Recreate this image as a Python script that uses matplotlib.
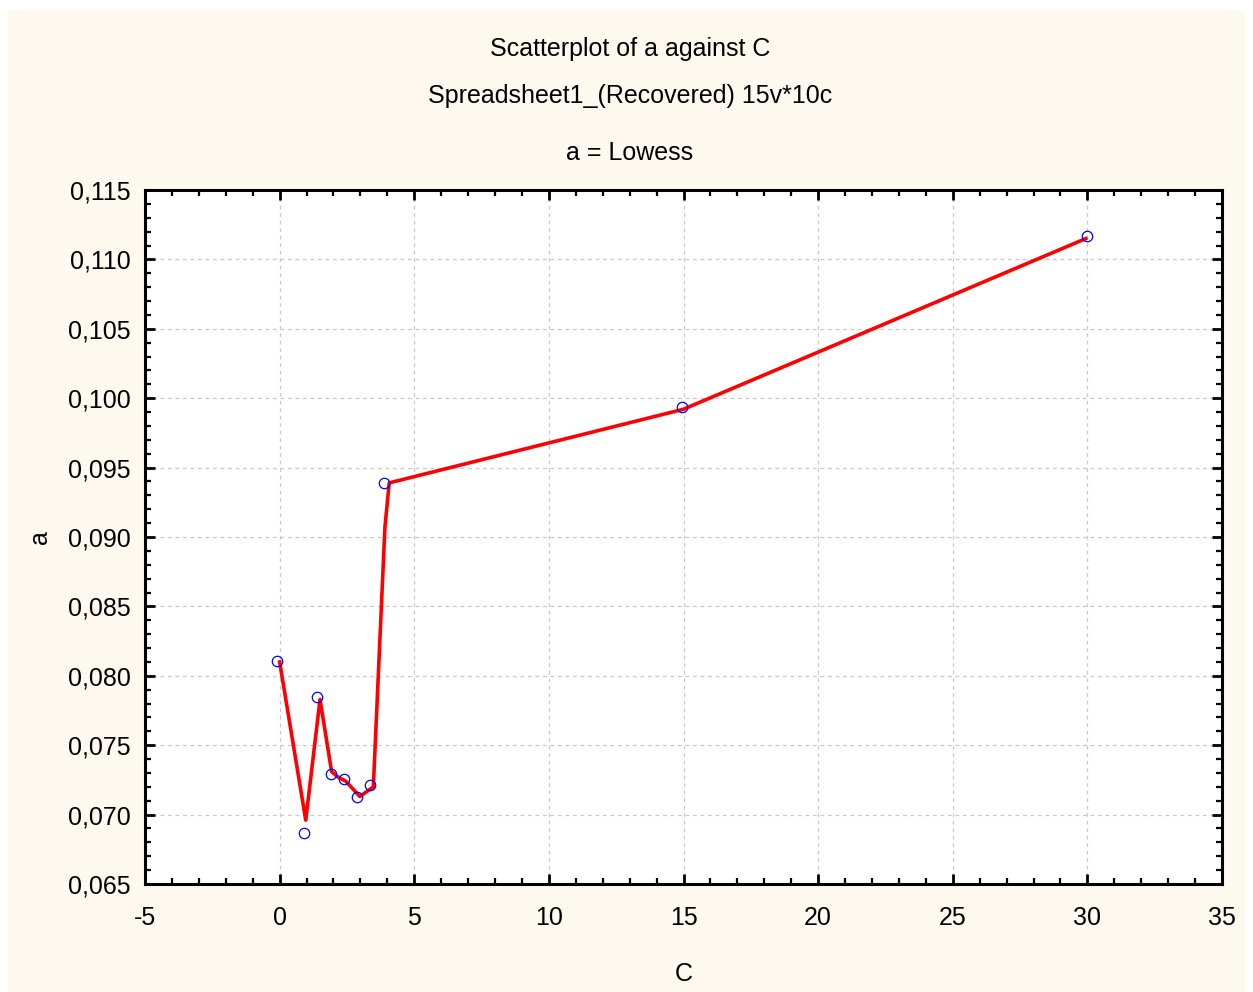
import matplotlib
matplotlib.use("Agg")
import matplotlib.pyplot as plt
from matplotlib.patches import Rectangle
from matplotlib.ticker import FuncFormatter, MultipleLocator

plt.rcParams["font.family"] = ["Liberation Sans", "DejaVu Sans"]

# observed points (a against C)
c_obs = [-0.1, 0.9, 1.39, 1.9, 2.39, 2.87, 3.36, 3.88, 14.95, 30.0]
a_obs = [0.0811, 0.0687, 0.0785, 0.0729, 0.0726, 0.0713, 0.0721, 0.0939, 0.0994, 0.1117]

# lowess fit as drawn
c_fit = [0.0, 0.97, 1.5, 1.93, 2.17, 2.46, 2.98, 3.48, 3.91, 4.07, 14.99, 29.94]
a_fit = [0.0810, 0.0696, 0.0783, 0.0731, 0.0727, 0.0724, 0.0713, 0.0720, 0.0907, 0.0939, 0.0992, 0.1115]

x_ticks = [-5, 0, 5, 10, 15, 20, 25, 30, 35]
y_ticks = [0.065, 0.070, 0.075, 0.080, 0.085, 0.090, 0.095, 0.100, 0.105, 0.110, 0.115]

title_lines = ["Scatterplot of a against C", "Spreadsheet1_(Recovered) 15v*10c", "a = Lowess"]

W, H = 1253, 992
fig = plt.figure(figsize=(W / 100, H / 100), dpi=100, facecolor="white")
fig.patches.append(Rectangle((8 / W, 0), 1237 / W, 982 / H, transform=fig.transFigure,
                             facecolor="#FEF9EE", edgecolor="none", zorder=-10))

ax = fig.add_axes([145 / W, 1 - 884 / H, 1077 / W, 694 / H])
ax.set_facecolor("white")

ax.plot(c_fit, a_fit, color="#FF0000", lw=2.6, zorder=3)
ax.plot(c_obs, a_obs, ls="none", marker="o", ms=7.5, mfc="none", mec="#0000FF", mew=0.9, zorder=4)

ax.set_xlim(-5, 35)
ax.set_ylim(0.065, 0.115)
ax.set_xticks(x_ticks)
ax.set_yticks(y_ticks)
ax.xaxis.set_minor_locator(MultipleLocator(1))
ax.yaxis.set_minor_locator(MultipleLocator(0.001))
ax.xaxis.set_major_formatter(FuncFormatter(lambda v, p: f"{v:.0f}"))
ax.yaxis.set_major_formatter(FuncFormatter(lambda v, p: f"{v:.3f}".replace(".", ",")))

ax.tick_params(which="both", direction="in", top=True, right=True, color="black")
ax.tick_params(which="major", length=7, width=2, labelsize=18)
ax.tick_params(axis="x", which="major", pad=16)
ax.tick_params(axis="y", which="major", pad=10)
ax.tick_params(which="minor", length=4, width=1.6)
for s in ax.spines.values():
    s.set_linewidth(2.2)

ax.grid(True, which="major", color="#C8C8C8", linestyle=(0, (3, 3)), linewidth=0.9)
ax.set_axisbelow(True)

ax.set_xlabel("C", fontsize=18, labelpad=23)
ax.set_ylabel("a", fontsize=18, labelpad=12)

for txt, y in zip(title_lines, [49, 96, 153]):
    fig.text(630 / W, 1 - y / H, txt, ha="center", va="center", fontsize=18)

fig.savefig("out.png", dpi=100, facecolor=fig.get_facecolor())
